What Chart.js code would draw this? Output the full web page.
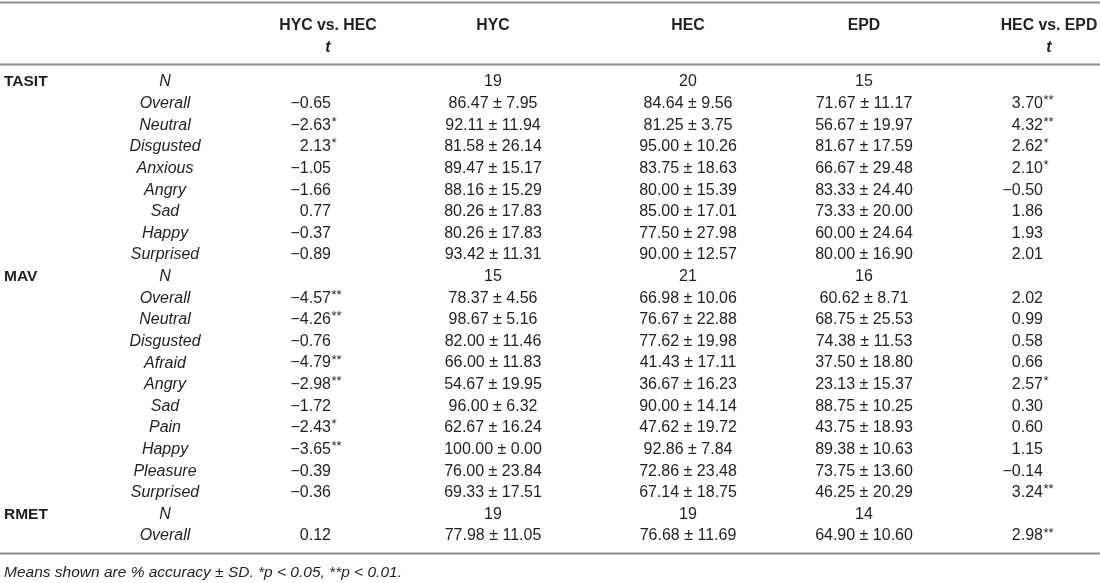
<!DOCTYPE html>
<html>
<head>
<meta charset="utf-8">
<script src="https://cdn.jsdelivr.net/npm/chart.js@4.4.1/dist/chart.umd.min.js"></script>
<style>
    html, body { margin: 0; padding: 0; background: #fff; }
    #wrap { width: 1100px; height: 583px; position: relative; }
</style>
</head>
<body>
<div id="wrap"><canvas id="myChart"></canvas></div>
<script>
// table content
const groupNames = ["TASIT", "MAV", "RMET"];
const groupFirstRow = [0, 9, 20];

const rowLabels = [
    "N", "Overall", "Neutral", "Disgusted", "Anxious", "Angry", "Sad", "Happy", "Surprised",
    "N", "Overall", "Neutral", "Disgusted", "Afraid", "Angry", "Sad", "Pain", "Happy", "Pleasure", "Surprised",
    "N", "Overall"
];
const tHycHec = [
    "", "−0.65", "−2.63*", "2.13*", "−1.05", "−1.66", "0.77", "−0.37", "−0.89",
    "", "−4.57**", "−4.26**", "−0.76", "−4.79**", "−2.98**", "−1.72", "−2.43*", "−3.65**", "−0.39", "−0.36",
    "", "0.12"
];
const hyc = [
    "19", "86.47 ± 7.95", "92.11 ± 11.94", "81.58 ± 26.14", "89.47 ± 15.17", "88.16 ± 15.29", "80.26 ± 17.83", "80.26 ± 17.83", "93.42 ± 11.31",
    "15", "78.37 ± 4.56", "98.67 ± 5.16", "82.00 ± 11.46", "66.00 ± 11.83", "54.67 ± 19.95", "96.00 ± 6.32", "62.67 ± 16.24", "100.00 ± 0.00", "76.00 ± 23.84", "69.33 ± 17.51",
    "19", "77.98 ± 11.05"
];
const hec = [
    "20", "84.64 ± 9.56", "81.25 ± 3.75", "95.00 ± 10.26", "83.75 ± 18.63", "80.00 ± 15.39", "85.00 ± 17.01", "77.50 ± 27.98", "90.00 ± 12.57",
    "21", "66.98 ± 10.06", "76.67 ± 22.88", "77.62 ± 19.98", "41.43 ± 17.11", "36.67 ± 16.23", "90.00 ± 14.14", "47.62 ± 19.72", "92.86 ± 7.84", "72.86 ± 23.48", "67.14 ± 18.75",
    "19", "76.68 ± 11.69"
];
const epd = [
    "15", "71.67 ± 11.17", "56.67 ± 19.97", "81.67 ± 17.59", "66.67 ± 29.48", "83.33 ± 24.40", "73.33 ± 20.00", "60.00 ± 24.64", "80.00 ± 16.90",
    "16", "60.62 ± 8.71", "68.75 ± 25.53", "74.38 ± 11.53", "37.50 ± 18.80", "23.13 ± 15.37", "88.75 ± 10.25", "43.75 ± 18.93", "89.38 ± 10.63", "73.75 ± 13.60", "46.25 ± 20.29",
    "14", "64.90 ± 10.60"
];
const tHecEpd = [
    "", "3.70**", "4.32**", "2.62*", "2.10*", "−0.50", "1.86", "1.93", "2.01",
    "", "2.02", "0.99", "0.58", "0.66", "2.57*", "0.30", "0.60", "1.15", "−0.14", "3.24**",
    "", "2.98**"
];
const headTop = ["", "HYC vs. HEC", "HYC", "HEC", "EPD", "HEC vs. EPD"];
const headBottom = ["", "t", "", "", "", "t"];
const footnote = "Means shown are % accuracy ± SD. *p < 0.05, **p < 0.01.";

// layout
const columns = [rowLabels, tHycHec, hyc, hec, epd, tHecEpd];
const colX = [165, 331, 493, 688, 864, 1043];
const colAlign = ["center", "right", "center", "center", "center", "right"];
const headShift = [0, -3, 0, 0, 0, 6];
const FONT = '"Liberation Sans", Arial, sans-serif';
const INK = "#231f20";
const RULE = "#8c8c8c";

const datasets = columns.map((col, c) => ({
    label: headTop[c] || "label",
    data: col.map((_, i) => ({ x: colX[c], y: i })),
    pointRadius: 0,
}));
datasets.push({
    label: "groups",
    data: groupFirstRow.map((r) => ({ x: 4, y: r })),
    pointRadius: 0,
});

const tablePlugin = {
    id: "tableText",
    afterDatasetsDraw(chart) {
        const ctx = chart.ctx;
        const xs = chart.scales.x;
        const ys = chart.scales.y;
        ctx.save();
        ctx.fillStyle = INK;
        ctx.textBaseline = "middle";

        // rules
        ctx.strokeStyle = RULE;
        ctx.lineWidth = 1.8;
        [-3.7, -0.83, 21.78].forEach((v) => {
            const y = Math.round(ys.getPixelForValue(v)) + 0.5;
            ctx.beginPath();
            ctx.moveTo(xs.getPixelForValue(0), y);
            ctx.lineTo(xs.getPixelForValue(1100), y);
            ctx.stroke();
        });

        // headers
        ctx.font = "bold 15.8px " + FONT;
        ctx.textAlign = "center";
        headTop.forEach((h, c) => {
            const x = xs.getPixelForValue(colX[c] + headShift[c]);
            if (h) ctx.fillText(h, x, ys.getPixelForValue(-2.59));
        });
        ctx.font = "italic bold 16px " + FONT;
        headBottom.forEach((h, c) => {
            const x = xs.getPixelForValue(colX[c] + headShift[c]);
            if (h) ctx.fillText(h, x, ys.getPixelForValue(-1.57));
        });

        // cells
        columns.forEach((col, c) => {
            const meta = chart.getDatasetMeta(c);
            meta.data.forEach((pt, i) => {
                const txt = col[i];
                if (!txt) return;
                if (c === 0) {
                    ctx.font = "italic 16px " + FONT;
                    ctx.textAlign = "center";
                    ctx.fillText(txt, pt.x, pt.y);
                } else if (colAlign[c] === "right") {
                    const num = txt.replace(/\*+$/, "");
                    const stars = txt.slice(num.length);
                    ctx.font = "16px " + FONT;
                    ctx.textAlign = "right";
                    ctx.fillText(num, pt.x, pt.y);
                    if (stars) {
                        ctx.font = "13px " + FONT;
                        ctx.textAlign = "left";
                        ctx.fillText(stars, pt.x + 0.5, pt.y - 3);
                    }
                } else {
                    ctx.font = "16px " + FONT;
                    ctx.textAlign = "center";
                    ctx.fillText(txt, pt.x, pt.y);
                }
            });
        });

        // group names
        const gMeta = chart.getDatasetMeta(columns.length);
        ctx.font = "bold 15.5px " + FONT;
        ctx.textAlign = "left";
        gMeta.data.forEach((pt, i) => {
            ctx.fillText(groupNames[i], pt.x, pt.y);
        });

        // footnote
        ctx.font = "italic 15.5px " + FONT;
        ctx.fillText(footnote, xs.getPixelForValue(4), ys.getPixelForValue(22.7));
        ctx.restore();
    },
};

const ctx = document.getElementById("myChart").getContext("2d");
const chart = new Chart(ctx, {
    type: "scatter",
    data: { datasets: datasets },
    options: {
        responsive: true,
        maintainAspectRatio: false,
        animation: false,
        layout: { padding: 0 },
        scales: {
            x: { type: "linear", display: false, min: 0, max: 1100 },
            y: { type: "linear", display: false, reverse: true, min: -3.793, max: 23.173 },
        },
        plugins: {
            legend: { display: false },
            tooltip: { enabled: false },
        },
    },
    plugins: [tablePlugin],
});
</script>
</body>
</html>
